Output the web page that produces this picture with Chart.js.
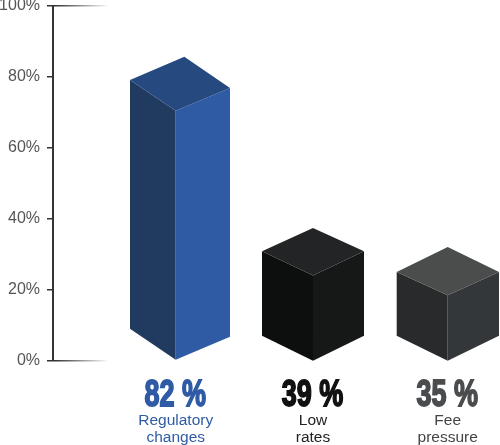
<!DOCTYPE html>
<html>
<head>
<meta charset="utf-8">
<style>
html, body { margin: 0; background: #fff; }
canvas { display: block; }
</style>
<script src="https://cdn.jsdelivr.net/npm/chart.js@4"></script>
</head>
<body>
<canvas id="myChart" width="500" height="445"></canvas>
<script>
'use strict';
// labels printed under each box
let categories = [['Regulatory', 'changes'], ['Low', 'rates'], ['Fee', 'pressure']];
let shares = [82, 39, 35];
// the boxes are not drawn to scale in the picture, so this is where the back corner reaches on the axis
let boxTops = [85.7, 37.4, 32];
let yTicks = [0, 20, 40, 60, 80, 100];

// box shapes in px, measured from the back corner and the baseline
let boxes = [
    { shift: 0, left: 45.7, right: 54.3, backDx: 8.6, leftY: 23.3, rightY: 31.3, frontY: 54, riseL: 31, riseR: 23, sink: 0,
      top: '#264a80', side: '#213a60', front: '#2f5ba5', text: '#2f5ba5', sub: '#2f5ba5' },
    { shift: 1.3, left: 51, right: 51, backDx: 0, leftY: 23.4, rightY: 23.4, frontY: 47.7, riseL: 25, riseR: 25, sink: 1,
      top: '#232425', side: '#0d0f0e', front: '#161817', text: '#111111', sub: '#222222' },
    { shift: 0, left: 51, right: 51.3, backDx: 0, leftY: 25, rightY: 25, frontY: 48.3, riseL: 25, riseR: 25, sink: 1,
      top: '#4b4c4c', side: '#282a2b', front: '#33373a', text: '#4a4c4e', sub: '#444444' }
];

function face(ctx, color, pts) {
    ctx.fillStyle = color;
    ctx.beginPath();
    ctx.moveTo(pts[0][0], pts[0][1]);
    for (let i = 1; i < pts.length; i++) {
        ctx.lineTo(pts[i][0], pts[i][1]);
    }
    ctx.closePath();
    ctx.fill();
}

let isoBoxes = {
    id: 'isoBoxes',
    afterDatasetsDraw(chart) {
        let ctx = chart.ctx;
        let bars = chart.getDatasetMeta(0).data;
        ctx.save();
        for (let i = 0; i < bars.length; i++) {
            let b = boxes[i];
            let x = bars[i].x + b.shift;
            let y = bars[i].y;
            let base = bars[i].base + b.sink;
            let lx = x - b.left;
            let rx = x + b.right;
            face(ctx, b.side, [[lx, y + b.leftY], [x, y + b.frontY], [x, base], [lx, base - b.riseL]]);
            face(ctx, b.front, [[x, y + b.frontY], [rx, y + b.rightY], [rx, base - b.riseR], [x, base]]);
            face(ctx, b.top, [[x + b.backDx, y], [rx, y + b.rightY], [x, y + b.frontY], [lx, y + b.leftY]]);

            // big condensed percentage
            ctx.save();
            ctx.translate(x - 0.5, 405.5);
            ctx.scale(0.72, 1);
            ctx.textAlign = 'center';
            ctx.textBaseline = 'alphabetic';
            ctx.font = 'bold 37.5px "Liberation Sans"';
            ctx.fillStyle = b.text;
            ctx.strokeStyle = b.text;
            ctx.lineWidth = 1.8;
            ctx.fillText(shares[i] + ' %', 0, 0);
            ctx.strokeText(shares[i] + ' %', 0, 0);
            ctx.restore();

            ctx.textAlign = 'center';
            ctx.font = '15.5px "Liberation Sans"';
            ctx.fillStyle = b.sub;
            ctx.fillText(categories[i][0], x, 425);
            ctx.fillText(categories[i][1], x, 441.5);
        }
        ctx.restore();
    }
};

function gridColor(context) {
    let chart = context.chart;
    let area = chart.chartArea;
    if (!area || !context.tick || context.tick.value % 100 !== 0) {
        return 'rgba(0,0,0,0)';
    }
    let g = chart.ctx.createLinearGradient(area.left, 0, area.left + 56, 0);
    g.addColorStop(0, 'rgba(40,40,40,1)');
    g.addColorStop(1, 'rgba(40,40,40,0)');
    return g;
}

let ctx = document.getElementById('myChart').getContext('2d');
let myChart = new Chart(ctx, {
    type: 'bar',
    data: {
        datasets: [{
            label: 'Share',
            data: boxTops.map((v, i) => ({ x: i, y: v })),
            backgroundColor: 'rgba(0,0,0,0)',
            borderWidth: 0
        }]
    },
    plugins: [isoBoxes],
    options: {
        responsive: false,
        animation: false,
        layout: { padding: { top: 6, bottom: 84.5, left: 0, right: 0 } },
        plugins: { legend: { display: false }, tooltip: { enabled: false } },
        scales: {
            x: {
                type: 'linear',
                display: false,
                offset: false,
                min: -0.9022,
                max: 2.3846
            },
            y: {
                min: 0,
                max: 100,
                afterBuildTicks(axis) {
                    axis.ticks = yTicks.map(v => ({ value: v }));
                },
                afterFit(axis) {
                    axis.width = 53;
                    axis.paddingTop = 0;
                    axis.paddingBottom = 0;
                },
                border: { color: '#333333', width: 2 },
                grid: {
                    color: gridColor,
                    tickColor: '#333333',
                    tickLength: 6,
                    lineWidth: 1.5
                },
                ticks: {
                    color: '#555555',
                    padding: 7,
                    font: { family: '"Liberation Sans"', size: 16 },
                    callback: v => v + '%'
                }
            }
        }
    }
});
</script>
</body>
</html>
